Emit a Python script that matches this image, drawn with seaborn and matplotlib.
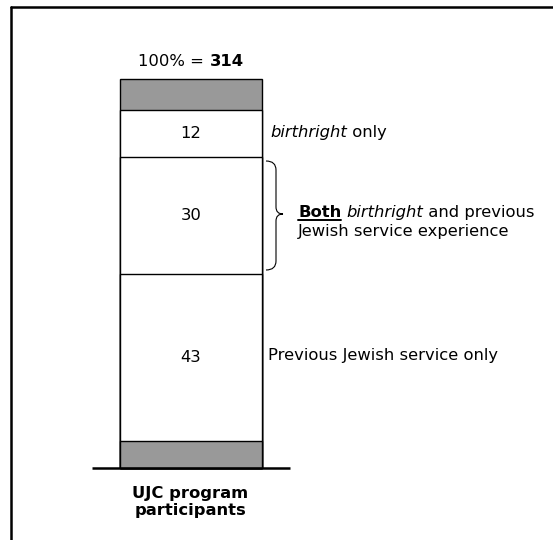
import numpy as np
import pandas as pd
import seaborn as sns
import matplotlib.pyplot as plt
from matplotlib.path import Path
from matplotlib.patches import PathPatch
from matplotlib.lines import Line2D
from matplotlib.transforms import IdentityTransform

# Stacked share of participants, bottom to top (percent of 314)
segments = ["Other (lower)", "Previous Jewish service only", "Both", "birthright only", "Other (upper)"]
values = [7, 43, 30, 12, 8]
fills = ["#999999", "white", "white", "white", "#999999"]
show_value = [False, True, True, True, False]
total_n = 314
category = "UJC program participants"

sns.set_theme(style="white")
plt.rcParams["font.family"] = ["DejaVu Sans"]
plt.rcParams["text.color"] = "black"

W, H = 553, 540
fig = plt.figure(figsize=(W / 100, H / 100), dpi=100)
ax = fig.add_axes([0, 0, 1, 1])

df = pd.DataFrame({"segment": segments, "value": values, "fill": fills})
df["top"] = df["value"].cumsum()
df["bottom"] = df["top"] - df["value"]
df["cat"] = category

# Layer cumulative bars from tallest to shortest so each segment shows its own band
for _, row in df.iloc[::-1].iterrows():
    sns.barplot(data=row.to_frame().T, x="cat", y="top", color=row["fill"],
                saturation=1, width=1.0, edgecolor="black", linewidth=1.0, ax=ax)

# Scale: bar center at pixel 191, width 142 px; y=0 at pixel 468, 3.89 px per percent
cx, bw, y0, ppu = 191, 142, 468, 3.89
ax.set_xlim(-cx / bw, (W - cx) / bw)
ax.set_ylim(-(H - y0) / ppu, 100 + (y0 - 100 * ppu) / ppu)
ax.axis("off")


def px(x, y):
    """figure pixel (from top-left) -> data coordinates"""
    return (x - cx) / bw, (y0 - y) / ppu


FS = 11.8

# Values inside the white segments
for row, sv in zip(df.itertuples(), show_value):
    if sv:
        ax.text(0, (row.bottom + row.top) / 2, f"{row.value}", ha="center", va="center",
                fontsize=FS, color="black")

# Baseline under the bar
bx0, _ = px(92, 0)
bx1, _ = px(290, 0)
ax.plot([bx0, bx1], [0, 0], color="black", lw=1.8, solid_capstyle="butt", clip_on=False)

# Curly brace next to the "Both" segment
verts_px = [(266, 161), (276, 161), (276, 170),
            (276, 207),
            (276, 214), (283, 214),
            (276, 214), (276, 221),
            (276, 261),
            (276, 270), (266, 270)]
codes = [Path.MOVETO, Path.CURVE3, Path.CURVE3,
         Path.LINETO,
         Path.CURVE3, Path.CURVE3,
         Path.CURVE3, Path.CURVE3,
         Path.LINETO,
         Path.CURVE3, Path.CURVE3]
brace = Path([px(*v) for v in verts_px], codes)
ax.add_patch(PathPatch(brace, facecolor="none", edgecolor="black", lw=0.8))

renderer = fig.canvas.get_renderer()
ident = IdentityTransform()


def runs(x, y, pieces, size=FS, ha="left"):
    """Draw a line of differently styled text pieces, left to right, baseline at pixel y."""
    arts = []
    cur = x
    for txt, kw in pieces:
        t = fig.text(cur, H - y, txt, transform=ident, fontsize=size,
                     va="baseline", ha="left", **kw)
        bb = t.get_window_extent(renderer)
        cur = bb.x1
        arts.append((t, bb))
    if ha == "center":
        shift = (cur - x) / 2
        for t, _ in arts:
            tx, ty = t.get_position()
            t.set_position((tx - shift, ty))
        arts = [(t, t.get_window_extent(renderer)) for t, _ in arts]
    return arts


# Total above the bar
runs(191, 66, [("100% = ", {}), (f"{total_n}", {"weight": "bold"})], ha="center")

# Segment annotations
runs(270, 137, [("birthright", {"style": "italic"}), (" only", {})])
both = runs(298, 217, [("Both", {"weight": "bold"}), (" ", {}),
                       ("birthright", {"style": "italic"}), (" and previous", {})])
bb = both[0][1]
fig.add_artist(Line2D([bb.x0, bb.x1], [H - 219.5, H - 219.5], transform=ident,
                      color="black", lw=1.4))
runs(298, 236, [("Jewish service experience", {})])
runs(268, 360, [("Previous Jewish service only", {})])

# Category label under the baseline
fig.text(190, H - 502, "UJC program\nparticipants", transform=ident, ha="center", va="center",
         fontsize=FS, weight="bold", linespacing=1.2)

# Frame lines along the top and left edges
fig.add_artist(Line2D([11, W], [H - 7, H - 7], transform=ident, color="black", lw=1.8))
fig.add_artist(Line2D([11, 11], [H - 7, 0], transform=ident, color="black", lw=1.8))

fig.savefig("out.png", dpi=100)
